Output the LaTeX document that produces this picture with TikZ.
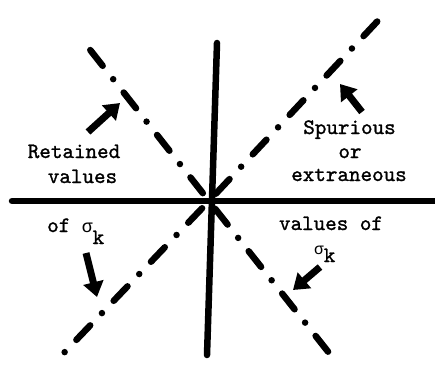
\documentclass[tikz,border=0pt]{standalone}
\usepackage{fontspec}
\newfontfamily\grk{Liberation Mono}
\newfontfamily\typew[FakeBold=1.2]{lmmono10-regular.otf}
\usetikzlibrary{arrows.meta}
\begin{document}
\begin{tikzpicture}[x=1pt,y=-1pt,
  axis/.style={line width=6.5pt,line cap=round},
  ray/.style={line width=6.5pt,line cap=round,dash pattern=on 20pt off 17pt on 0pt off 17pt,dash phase=44pt},
  pointer/.style={line width=7pt,-{Triangle[length=15pt,width=20pt]}},
  lbl/.style={font=\typew\fontsize{22pt}{22pt}\selectfont,inner sep=0pt,anchor=base}]
\useasboundingbox (0,0) rectangle (435,366);
\coordinate (O) at (209,201);
% axes
\coordinate (hL) at (12,201);
\coordinate (hR) at (438,201);
\coordinate (vT) at (217,43);
\coordinate (vB) at (207,355);
\draw[axis] (hL) -- (hR);
\draw[axis] (vT) -- (vB);
% rays
\coordinate (r1a) at (80,37);
\coordinate (r1b) at (337,363);
\coordinate (r2a) at (388,10);
\coordinate (r2b) at (60,357);
\draw[ray] (O) -- (r1a);
\draw[ray] (O) -- (r1b);
\draw[ray] (O) -- (r2a);
\draw[ray] (O) -- (r2b);
% labels
\node[lbl] (ret) at (74,158) {Retained};
\node[lbl] (valL) at (82.5,183) {values};
\node[lbl,anchor=base west] (ofL) at (47,232) {of {\grk\fontsize{18pt}{18pt}\selectfont σ}\raisebox{-12pt}{k}};
\node[lbl] (sp) at (349.5,134) {Spurious};
\node[lbl] (or) at (350,158) {or};
\node[lbl] (ext) at (349,181) {extraneous};
\node[lbl] (valR) at (331,230) {values of};
\node[lbl,anchor=base west] (sigR) at (314,254) {{\grk\fontsize{16pt}{16pt}\selectfont σ}\raisebox{-8pt}{k}};
% arrows
\coordinate (a1s) at (88,132); \coordinate (a1e) at (120,103);
\coordinate (a2s) at (362,112); \coordinate (a2e) at (340,84);
\coordinate (a3s) at (86,253); \coordinate (a3e) at (97,297);
\coordinate (a4s) at (320,267); \coordinate (a4e) at (293,290);
\draw[pointer] (a1s) -- (a1e);
\draw[pointer] (a2s) -- (a2e);
\draw[pointer] (a3s) -- (a3e);
\draw[pointer] (a4s) -- (a4e);
\end{tikzpicture}
\end{document}
